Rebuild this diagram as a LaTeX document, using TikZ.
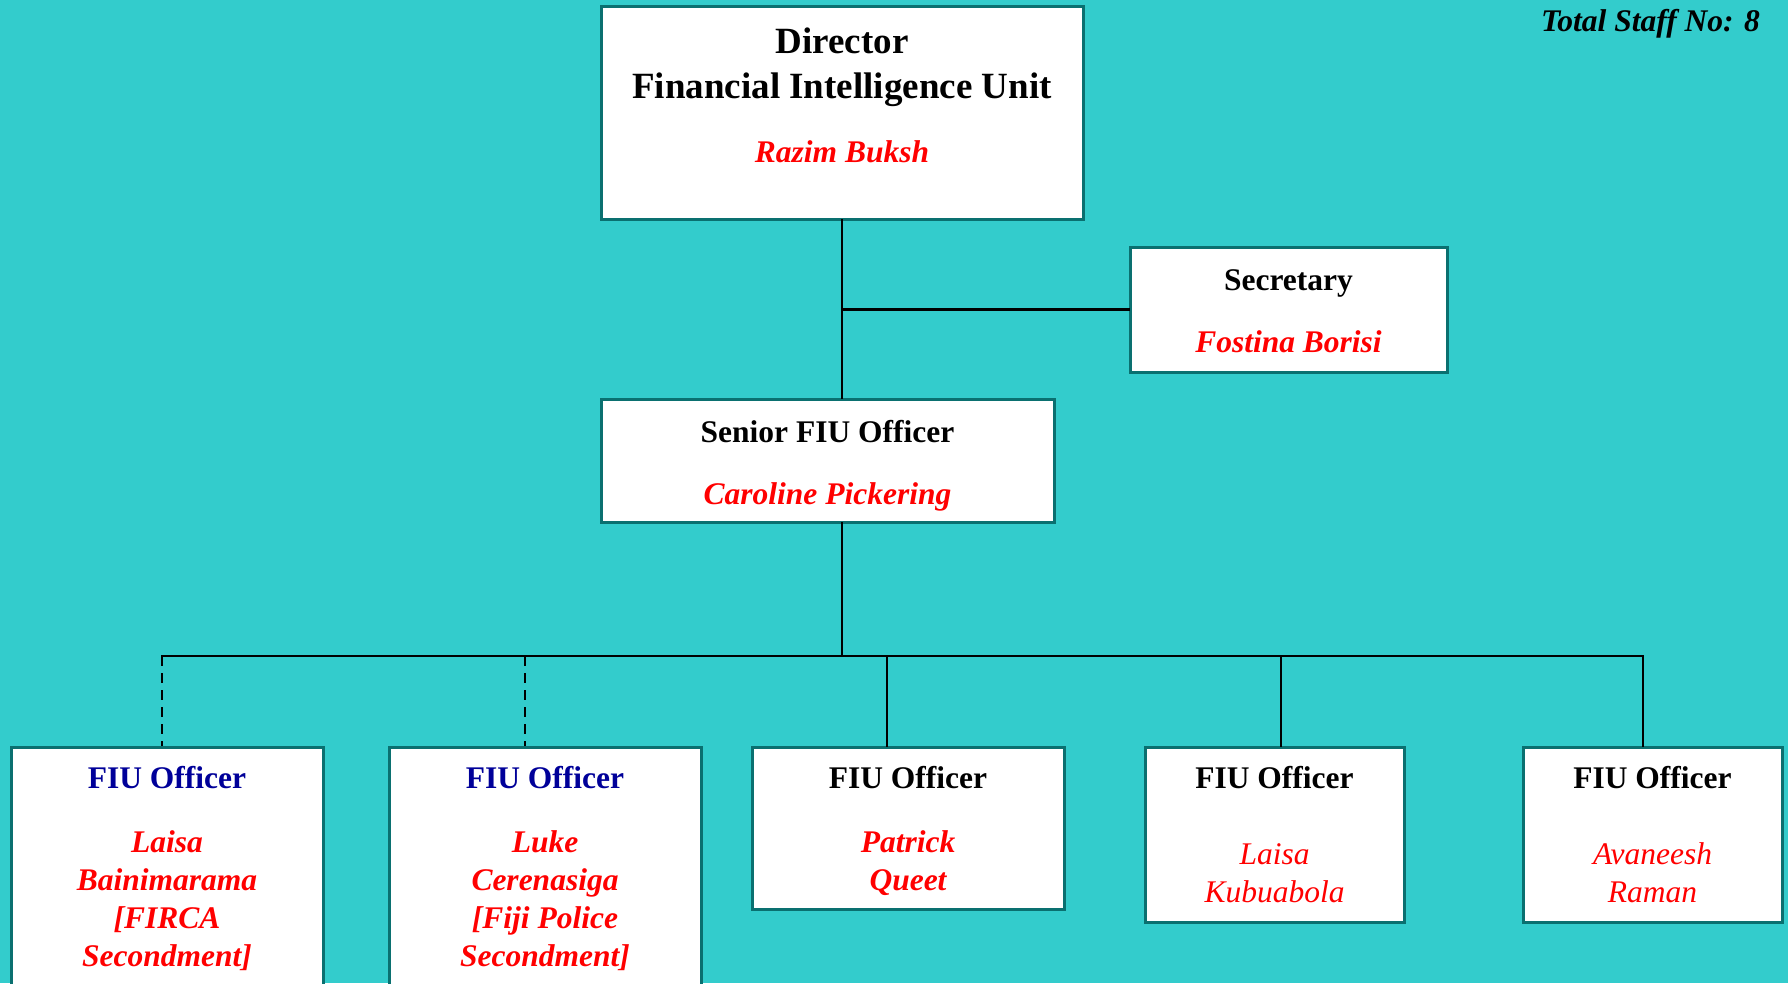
\documentclass[tikz,border=0pt]{standalone}
\usepackage{fontspec}
\setmainfont{Liberation Serif}

\begin{document}
\begin{tikzpicture}[x=1pt,y=-1pt,
  post/.style={draw=post edge, fill=white, line width=3pt, inner sep=0pt},
  role/.style={font=\fontsize{31.5}{38}\selectfont\bfseries, anchor=base, inner sep=0pt},
  who/.style={text=name red, font=\fontsize{31.5}{38}\selectfont\bfseries\itshape, align=center, anchor=base, inner sep=0pt},
  whoplain/.style={who, font=\fontsize{31.5}{38}\selectfont\itshape},
  link/.style={line width=2.5pt, line cap=rect}]
\definecolor{sea}{RGB}{51,204,204}
\definecolor{post edge}{RGB}{10,112,112}
\definecolor{name red}{RGB}{255,0,0}
\definecolor{role blue}{RGB}{0,0,153}

\fill[sea] (0,0) rectangle (1788,983);
\useasboundingbox (0,0) rectangle (1788,983);

\node[post, minimum width=482pt, minimum height=213pt] (dir) at (842,112.5) {};
\node[post, minimum width=317pt, minimum height=125pt] (sec) at (1288.5,309.5) {};
\node[post, minimum width=453pt, minimum height=123pt] (sen) at (827.5,460.5) {};
\node[post, minimum width=312pt, minimum height=253pt] (o1) at (167,873.5) {};
\node[post, minimum width=312pt, minimum height=253pt] (o2) at (545,873.5) {};
\node[post, minimum width=312pt, minimum height=162pt] (o3) at (908,828) {};
\node[post, minimum width=259pt, minimum height=175pt] (o4) at (1274.5,834.5) {};
\node[post, minimum width=259pt, minimum height=175pt] (o5) at (1652.5,834.5) {};

% multi-line texts sit on the baseline of their last line
\node[role, align=center, font=\fontsize{37}{45}\selectfont\bfseries] (dirrole) at (842,98) {Director\\Financial Intelligence Unit};
\node[who] (dirname) at (842,162) {Razim Buksh};
\node[role] (secrole) at (1288.5,290) {Secretary};
\node[who] (secname) at (1288.5,352) {Fostina Borisi};
\node[role] (senrole) at (827.5,442) {Senior FIU Officer};
\node[who] (senname) at (827.5,504) {Caroline Pickering};

\node[role, text=role blue] (o1role) at (167,788) {FIU Officer};
\node[who] (o1name) at (167,966) {Laisa\\Bainimarama\\{}[FIRCA\\Secondment]};
\node[role, text=role blue] (o2role) at (545,788) {FIU Officer};
\node[who] (o2name) at (545,966) {Luke\\Cerenasiga\\{}[Fiji Police\\Secondment]};
\node[role] (o3role) at (908,788) {FIU Officer};
\node[who] (o3name) at (908,890) {Patrick\\Queet};
\node[role] (o4role) at (1274.5,788) {FIU Officer};
\node[whoplain] (o4name) at (1274.5,902) {Laisa\\Kubuabola};
\node[role] (o5role) at (1652.5,788) {FIU Officer};
\node[whoplain] (o5name) at (1652.5,902) {Avaneesh\\Raman};

\node[font=\fontsize{31.5}{38}\selectfont\bfseries\itshape, anchor=base east, inner sep=0pt] (staff) at (1760,31) {Total Staff No: 8};

\coordinate (sj) at (dir.south |- sec.west);
\coordinate (hub) at (842,656);
\coordinate (b1) at (162,656);
\coordinate (b2) at (525,656);
\coordinate (b3) at (887,656);
\coordinate (b4) at (1281,656);
\coordinate (b5) at (1643,656);

\draw[link] (dir.south) -- (dir.south |- sen.north);
\draw[link] (sj) -- (sec.west);
\draw[link] (hub |- sen.south) -- (hub);
\draw[link] (b1) -- (b5);
\draw[link, line cap=butt, dash pattern=on 10pt off 7pt] (b1) -- (b1 |- o1.north);
\draw[link, line cap=butt, dash pattern=on 10pt off 7pt] (b2) -- (b2 |- o2.north);
\draw[link] (b3) -- (b3 |- o3.north);
\draw[link] (b4) -- (b4 |- o4.north);
\draw[link] (b5) -- (b5 |- o5.north);

\end{tikzpicture}
\end{document}
